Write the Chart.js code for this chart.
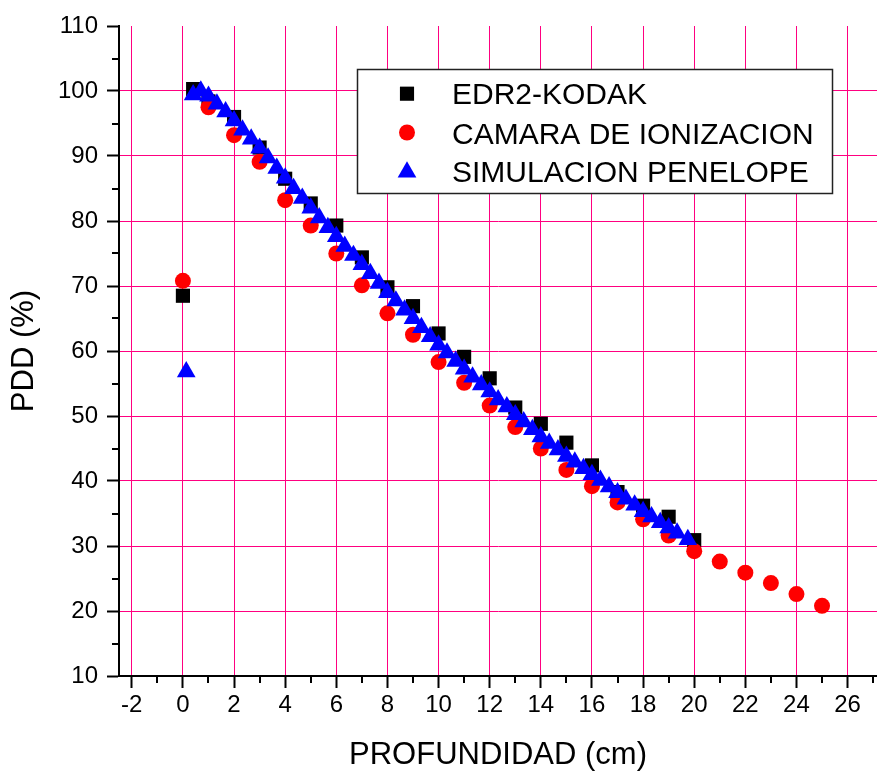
<!DOCTYPE html>
<html><head><meta charset="utf-8">
<script src="https://cdn.jsdelivr.net/npm/chart.js@4.4.0/dist/chart.umd.min.js"></script>
<style>html,body{margin:0;padding:0;background:#fff;} canvas{display:block;}</style>
</head><body>
<canvas id="c" width="877" height="774"></canvas>
<script>
// ---- data ----
const kodakX = [0, 0.4, 1, 2, 3, 4, 5, 6, 7, 8, 9, 10, 11, 12, 13, 14, 15, 16, 17, 18, 19, 20];
const kodakY = [68.5, 100.3, 98.4, 96.0, 91.3, 86.5, 82.7, 79.3, 74.4, 69.8, 66.9, 62.7, 59.1, 55.8, 51.3, 48.8, 45.9, 42.4, 38.3, 36.2, 34.5, 30.9];

const camaraX = [0, 1, 2, 3, 4, 5, 6, 7, 8, 9, 10, 11, 12, 13, 14, 15, 16, 17, 18, 19, 20, 21, 22, 23, 24, 25];
const camaraY = [70.8, 97.5, 93.2, 89.1, 83.2, 79.3, 75.0, 70.1, 65.8, 62.5, 58.3, 55.1, 51.6, 48.3, 45.0, 41.7, 39.2, 36.7, 34.1, 31.6, 29.2, 27.6, 25.9, 24.3, 22.6, 20.8];

const simX = [0.13, 0.4, 0.7, 1.0, 1.33, 1.67, 2.0, 2.33, 2.67, 3.0, 3.33, 3.67, 4.0, 4.33, 4.67, 5.0, 5.33, 5.67, 6.0, 6.33, 6.67, 7.0, 7.33, 7.67, 8.0, 8.33, 8.67, 9.0, 9.33, 9.67, 10.0, 10.33, 10.67, 11.0, 11.33, 11.67, 12.0, 12.33, 12.67, 13.0, 13.33, 13.67, 14.0, 14.33, 14.67, 15.0, 15.33, 15.67, 16.0, 16.33, 16.67, 17.0, 17.33, 17.67, 18.0, 18.33, 18.67, 19.0, 19.33, 19.75];
const simY = [56.8, 99.4, 100.0, 99.2, 98.0, 96.8, 95.4, 94.0, 92.6, 91.2, 89.7, 88.1, 86.6, 85.0, 83.5, 82.0, 80.5, 79.0, 77.6, 76.1, 74.7, 73.3, 71.9, 70.4, 69.0, 67.7, 66.3, 65.0, 63.6, 62.2, 60.9, 59.7, 58.4, 57.2, 56.0, 54.8, 53.7, 52.5, 51.4, 50.2, 49.1, 47.9, 46.8, 45.8, 44.8, 43.8, 42.9, 41.9, 41.0, 40.1, 39.1, 38.2, 37.2, 36.3, 35.3, 34.5, 33.6, 32.8, 32.0, 31.0];

const seriesLabels = ['EDR2-KODAK', 'CAMARA DE IONIZACION', 'SIMULACION PENELOPE'];
const xTicks = [-2, 0, 2, 4, 6, 8, 10, 12, 14, 16, 18, 20, 22, 24, 26];
const xMinor = [-1, 1, 3, 5, 7, 9, 11, 13, 15, 17, 19, 21, 23, 25, 27];
const yTicks = [10, 20, 30, 40, 50, 60, 70, 80, 90, 100, 110];
const yMinor = [15, 25, 35, 45, 55, 65, 75, 85, 95, 105];

const FONT = '"Liberation Sans", Arial, Helvetica, sans-serif';
const PINK = 'rgb(255,0,128)';

function pts(xs, ys) { return xs.map((x, i) => ({ x: x, y: ys[i] })); }

function drawMarker(ctx, style, r, x, y) {
  ctx.beginPath();
  if (style === 'rect') {
    const s = Math.SQRT1_2 * r;
    ctx.rect(x - s, y - s, 2 * s, 2 * s);
  } else if (style === 'circle') {
    ctx.arc(x, y, r, 0, Math.PI * 2);
  } else {
    let a = 0;
    ctx.moveTo(x + Math.sin(a) * r, y - Math.cos(a) * r);
    a += 2 * Math.PI / 3;
    ctx.lineTo(x + Math.sin(a) * r, y - Math.cos(a) * r);
    a += 2 * Math.PI / 3;
    ctx.lineTo(x + Math.sin(a) * r, y - Math.cos(a) * r);
    ctx.closePath();
  }
  ctx.fill();
}

const minorTicks = {
  id: 'minorTicks',
  afterDraw(chart) {
    const { ctx, scales: { x, y }, chartArea: a } = chart;
    ctx.save();
    ctx.strokeStyle = '#000';
    ctx.lineWidth = 2;
    ctx.beginPath();
    xMinor.forEach(v => {
      const px = Math.round(x.getPixelForValue(v));
      if (px >= a.left && px <= a.right) { ctx.moveTo(px, a.bottom); ctx.lineTo(px, a.bottom + 7); }
    });
    yMinor.forEach(v => {
      const py = Math.round(y.getPixelForValue(v));
      ctx.moveTo(a.left, py); ctx.lineTo(a.left - 7, py);
    });
    ctx.stroke();
    ctx.restore();
  }
};

const boxLegend = {
  id: 'boxLegend',
  afterDraw(chart) {
    const ctx = chart.ctx;
    const bx = 357, by = 69, bw = 475, bh = 124;
    ctx.save();
    ctx.fillStyle = '#fff';
    ctx.fillRect(bx, by, bw, bh);
    ctx.strokeStyle = '#222';
    ctx.lineWidth = 1.5;
    ctx.strokeRect(bx + 0.5, by + 0.5, bw, bh);
    const markY = [93.7, 132.5, 172];
    const baseY = [104, 143.5, 181.5];
    chart.data.datasets.forEach((ds, i) => {
      ctx.fillStyle = ds.backgroundColor;
      drawMarker(ctx, ds.pointStyle, ds.pointRadius, 407, markY[i]);
      ctx.fillStyle = '#000';
      ctx.font = '30px ' + FONT;
      ctx.textBaseline = 'alphabetic';
      ctx.textAlign = 'left';
      ctx.fillText(ds.label, 452, baseY[i]);
    });
    ctx.restore();
  }
};

new Chart(document.getElementById('c'), {
  type: 'scatter',
  data: {
    datasets: [
      { label: seriesLabels[0], data: pts(kodakX, kodakY), pointStyle: 'rect', pointRadius: 10, pointHoverRadius: 10,
        backgroundColor: '#000000', borderColor: '#000000', borderWidth: 0, order: 3 },
      { label: seriesLabels[1], data: pts(camaraX, camaraY), pointStyle: 'circle', pointRadius: 8, pointHoverRadius: 8,
        backgroundColor: '#ff0000', borderColor: '#ff0000', borderWidth: 0, order: 2 },
      { label: seriesLabels[2], data: pts(simX, simY), pointStyle: 'triangle', pointRadius: 10.8, pointHoverRadius: 10.8,
        backgroundColor: '#0000ff', borderColor: '#0000ff', borderWidth: 0, order: 1 }
    ]
  },
  options: {
    responsive: false,
    animation: false,
    devicePixelRatio: 1,
    events: [],
    layout: { autoPadding: false, padding: { top: 26, left: 0, right: 0, bottom: 0 } },
    plugins: { legend: { display: false }, tooltip: { enabled: false } },
    scales: {
      x: {
        type: 'linear', min: -2.5, max: 27.15,
        afterBuildTicks: s => { s.ticks = xTicks.map(v => ({ value: v })); },
        afterFit: s => { s.height = 98; s.paddingLeft = 0; s.paddingRight = 0; },
        grid: { color: PINK, lineWidth: 1, drawTicks: true, tickLength: 12, tickColor: '#000', tickWidth: 2 },
        border: { display: true, color: '#000', width: 2 },
        ticks: { color: '#000', font: { family: FONT, size: 24 }, padding: 3, maxRotation: 0, autoSkip: false },
        title: { display: true, text: 'PROFUNDIDAD (cm)', color: '#000', font: { family: FONT, size: 31 }, padding: { top: 0, bottom: 0 } }
      },
      y: {
        type: 'linear', min: 10, max: 110,
        afterBuildTicks: s => { s.ticks = yTicks.map(v => ({ value: v })); },
        afterFit: s => { s.width = 119; s.paddingTop = 0; s.paddingBottom = 0; },
        grid: { color: c => (c.tick && (c.tick.value === 10 || c.tick.value === 110)) ? 'rgba(0,0,0,0)' : PINK,
                lineWidth: 1, drawTicks: true, tickLength: 12, tickColor: '#000', tickWidth: 2 },
        border: { display: true, color: '#000', width: 2 },
        ticks: { color: '#000', font: { family: FONT, size: 24 }, padding: 9 },
        title: { display: true, text: 'PDD (%)', color: '#000', font: { family: FONT, size: 31 }, padding: { top: 6, bottom: 0 } }
      }
    }
  },
  plugins: [minorTicks, boxLegend]
});
</script>
</body></html>
